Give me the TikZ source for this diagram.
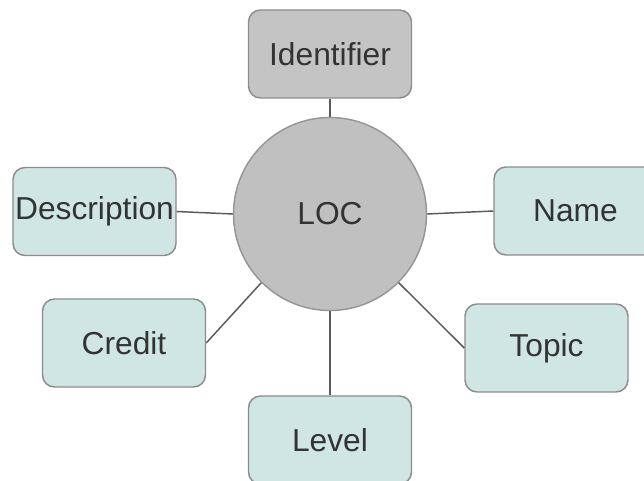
\documentclass[tikz,border=0pt]{standalone}
\usepackage{fontspec}
\setmainfont{Liberation Sans}
\begin{document}
\begin{tikzpicture}[x=0.75pt,y=0.75pt,yscale=-1,xscale=1,
        attrbox/.style={draw={rgb, 255:red, 140; green, 140; blue, 140 }, line width=1.1pt, rounded corners=9pt,
            fill={rgb, 255:red, 207; green, 230; blue, 228 }, minimum width=122.25pt, minimum height=66pt,
            inner sep=0.75pt, text={rgb, 255:red, 51; green, 51; blue, 51 }, font=\fontsize{23.8}{28}\selectfont},
        keybox/.style={attrbox, fill={rgb, 255:red, 196; green, 196; blue, 196 }},
        entity/.style={circle, draw={rgb, 255:red, 150; green, 150; blue, 150 }, line width=1.1pt,
            fill={rgb, 255:red, 192; green, 192; blue, 192 }, minimum size=144.75pt, inner sep=0.75pt,
            text={rgb, 255:red, 51; green, 51; blue, 51 }, font=\fontsize{23.8}{28}\selectfont},
        link/.style={draw={rgb, 255:red, 90; green, 90; blue, 90 }, line width=1.1pt}]
        \useasboundingbox (0,0) rectangle (644,481);
        \clip (0,0) rectangle (644,481);

        %Shape: Circle
        \node [entity] (loc) at (330,214) {LOC};

        %Shape: Rounded Rect
        \node [keybox] (identifier) at (330,54) {Identifier};
        \node [attrbox] (description) at (94.5,211.5) {Description};
        \node [attrbox] (name) at (575.5,211) {Name};
        \node [attrbox] (credit) at (124,343) {Credit};
        \node [attrbox] (topic) at (546.5,348) {Topic};
        \node [attrbox] (level) at (330,440) {Level};

        %Straight Lines
        \draw [link] (identifier) -- (loc);
        \draw [link] (description.east) -- (loc.west);
        \draw [link] (loc.east) -- (name.west);
        \draw [link] (loc.225) -- (credit.east);
        \draw [link] (loc.-45) -- (topic.west);
        \draw [link] (loc) -- (level);
\end{tikzpicture}
\end{document}
